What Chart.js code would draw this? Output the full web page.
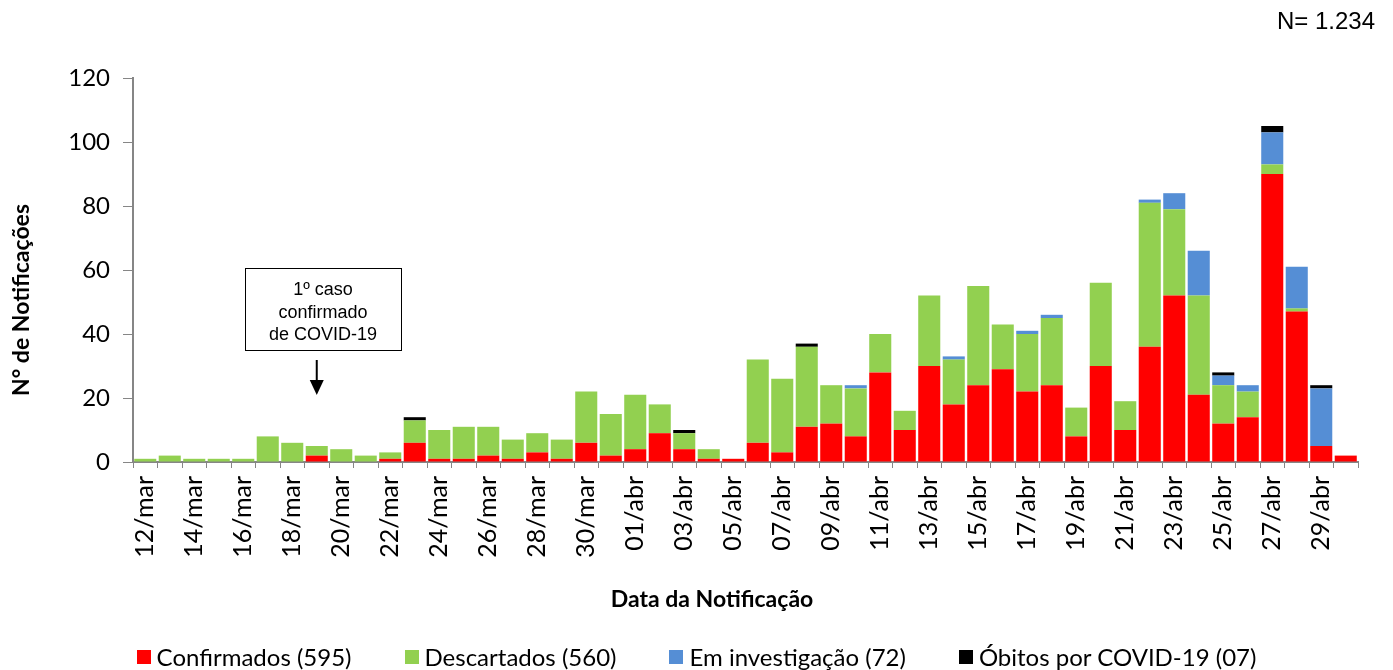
<!DOCTYPE html>
<html>
<head>
<meta charset="utf-8">
<script src="https://cdn.jsdelivr.net/npm/chart.js@4.4.1/dist/chart.umd.min.js"></script>
<style>
  body{margin:0;background:#fff;}
  #wrap{position:relative;width:1393px;height:670px;}
  #chart{position:absolute;left:0;top:0;}
  #legend{position:absolute;left:0;top:642px;width:1393px;display:flex;justify-content:center;gap:53px;
    font-family:Lato,"Open Sans",sans-serif;font-size:24px;color:#000;}
  #legend span.item{display:flex;align-items:center;white-space:nowrap;}
  #legend span.box{display:inline-block;width:14px;height:14px;margin-right:6px;}
</style>
</head>
<body>
<div id="wrap">
  <canvas id="chart" width="1393" height="670"></canvas>
  <div id="legend"></div>
</div>
<script>
/* DATA */
const dias=["12/mar","13/mar","14/mar","15/mar","16/mar","17/mar","18/mar","19/mar","20/mar","21/mar",
  "22/mar","23/mar","24/mar","25/mar","26/mar","27/mar","28/mar","29/mar","30/mar","31/mar",
  "01/abr","02/abr","03/abr","04/abr","05/abr","06/abr","07/abr","08/abr","09/abr","10/abr",
  "11/abr","12/abr","13/abr","14/abr","15/abr","16/abr","17/abr","18/abr","19/abr","20/abr",
  "21/abr","22/abr","23/abr","24/abr","25/abr","26/abr","27/abr","28/abr","29/abr","30/abr"];

const confirmados=[0,0,0,0,0,0,0,2,0,0, 1,6,1,1,2,1,3,1,6,2, 4,9,4,1,1,6,3,11,12,8,
  28,10,30,18,24,29,22,24,8,30, 10,36,52,21,12,14,90,47,5,2];
const descartados=[1,2,1,1,1,8,6,3,4,2, 2,7,9,10,9,6,6,6,16,13, 17,9,5,3,0,26,23,25,12,15,
  12,6,22,14,31,14,18,21,9,26, 9,45,27,31,12,8,3,1,0,0];
const emInvestigacao=[0,0,0,0,0,0,0,0,0,0, 0,0,0,0,0,0,0,0,0,0, 0,0,0,0,0,0,0,0,0,1,
  0,0,0,1,0,0,1,1,0,0, 0,1,5,14,3,2,10,13,18,0];
const obitos=[0,0,0,0,0,0,0,0,0,0, 0,1,0,0,0,0,0,0,0,0, 0,0,1,0,0,0,0,1,0,0,
  0,0,0,0,0,0,0,0,0,0, 0,0,0,0,1,0,2,0,1,0];

const yTicks=[0,20,40,60,80,100,120];
const series=[
  {nome:"Confirmados (595)",dados:confirmados,cor:"#FF0000"},
  {nome:"Descartados (560)",dados:descartados,cor:"#92D050"},
  {nome:"Em investigação (72)",dados:emInvestigacao,cor:"#558ED5"},
  {nome:"Óbitos por COVID-19 (07)",dados:obitos,cor:"#000000"}
];
const primeiroCaso=7; // 19/mar

/* LEGEND (html) */
const legend=document.getElementById("legend");
series.forEach(s=>{
  legend.innerHTML+=`<span class="item"><span class="box" style="background:${s.cor}"></span>${s.nome}</span>`;
});

/* extra text + annotation */
const extras={
  id:"extras",
  afterDraw(chart){
    const ctx=chart.ctx, x=chart.scales.x;
    ctx.save();
    ctx.fillStyle="#000";

    ctx.font="24px 'Liberation Sans', Arial, sans-serif";
    ctx.textAlign="right"; ctx.textBaseline="middle";
    ctx.fillText("N= 1.234",1375,22);

    ctx.font="bold 23px Lato, sans-serif";
    ctx.textAlign="center";
    ctx.fillText("Data da Notificação",712,600);
    ctx.save();
    ctx.translate(22,300);
    ctx.rotate(-Math.PI/2);
    ctx.fillText("N° de Notificações",0,0);
    ctx.restore();

    // caixa "1º caso"
    const cx=x.getPixelForValue(primeiroCaso);
    ctx.strokeStyle="#000"; ctx.lineWidth=1;
    ctx.strokeRect(245.5,268.5,156,82);
    ctx.font="18px 'Liberation Sans', Arial, sans-serif";
    ctx.fillText("1º caso",323,290);
    ctx.fillText("confirmado",323,313);
    ctx.fillText("de COVID-19",323,335);
    ctx.lineWidth=2;
    ctx.beginPath(); ctx.moveTo(cx,360); ctx.lineTo(cx,382); ctx.stroke();
    ctx.beginPath(); ctx.moveTo(cx-7,380); ctx.lineTo(cx+7,380); ctx.lineTo(cx,395); ctx.closePath(); ctx.fill();
    ctx.restore();
  }
};

new Chart(document.getElementById("chart"),{
  type:"bar",
  data:{
    labels:dias,
    datasets:series.map(s=>({
      label:s.nome,
      data:s.dados,
      backgroundColor:s.cor,
      borderWidth:0,
      barPercentage:0.9,
      categoryPercentage:1
    }))
  },
  options:{
    responsive:false,
    animation:false,
    layout:{padding:{top:78,right:35,bottom:0,left:0}},
    plugins:{legend:{display:false},tooltip:{enabled:false}},
    scales:{
      x:{
        stacked:true,
        grid:{display:true,offset:true,drawOnChartArea:false,tickLength:6,color:"#868686"},
        border:{color:"#868686",width:2},
        ticks:{
          autoSkip:false,minRotation:90,maxRotation:90,padding:8,color:"#000",
          font:{family:"Lato",size:25},
          callback:(v,i)=>i%2===0?dias[i]:""
        },
        afterFit(scale){scale.height=208;}
      },
      y:{
        stacked:true,min:0,max:120,
        afterBuildTicks(scale){scale.ticks=yTicks.map(v=>({value:v}));},
        grid:{display:true,drawOnChartArea:false,tickLength:10,color:"#868686"},
        border:{color:"#868686",width:2},
        ticks:{padding:13,color:"#000",font:{family:"Lato",size:24}},
        afterFit(scale){scale.width=133;}
      }
    }
  },
  plugins:[extras]
});
</script>
</body>
</html>
